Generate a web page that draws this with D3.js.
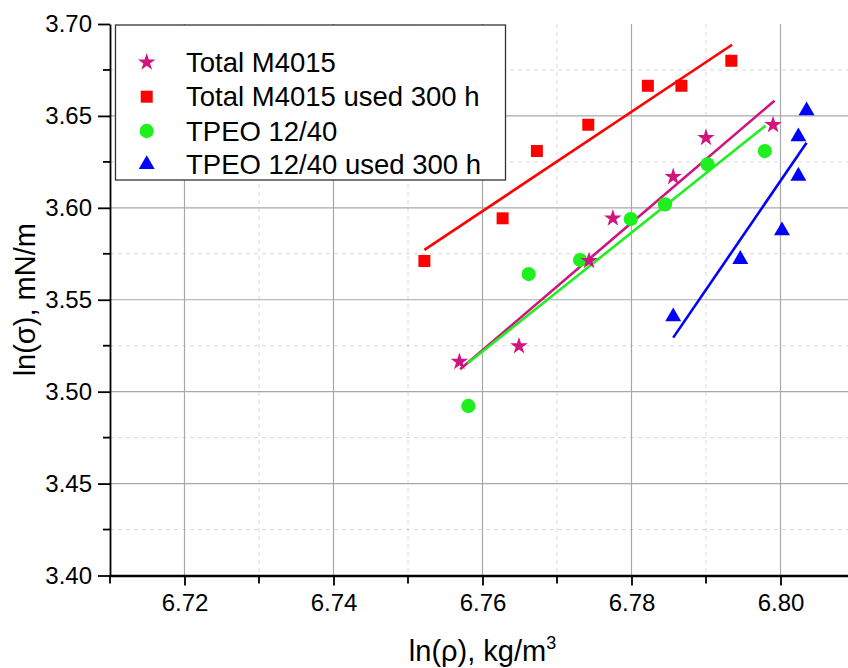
<!DOCTYPE html>
<html>
<head>
<meta charset="utf-8">
<script src="https://cdnjs.cloudflare.com/ajax/libs/d3/7.8.5/d3.min.js"></script>
<style>
  body { margin: 0; background: #fff; }
  svg { font-family: "Liberation Sans", Arial, sans-serif; display: block; }
  .axis path, .axis line { stroke: #000; }
  .axis text { font-size: 24px; fill: #000; }
</style>
</head>
<body>
<svg id="chart" width="848" height="668"></svg>
<script>

// Total M4015 (stars)
var starX = [6.7569, 6.7649, 6.7743, 6.7775, 6.7856, 6.7900, 6.7990];
var starY = [3.5163, 3.5248, 3.5712, 3.5943, 3.6169, 3.6381, 3.6451];
var starFit = [[6.7570, 3.5122], [6.7992, 3.6583]];

// Total M4015 used 300 h (squares)
var sqX = [6.7522, 6.7627, 6.7673, 6.7742, 6.7822, 6.7867, 6.7934];
var sqY = [3.5711, 3.5943, 3.6309, 3.6452, 3.6664, 3.6664, 3.6800];
var sqFit = [[6.7522, 3.5771], [6.7935, 3.6887]];

// TPEO 12/40 (circles)
var circX = [6.7581, 6.7662, 6.7731, 6.7799, 6.7845, 6.7902, 6.7979];
var circY = [3.4922, 3.5640, 3.5716, 3.5939, 3.6019, 3.6237, 3.6309];
var circFit = [[6.7580, 3.5154], [6.7980, 3.6447]];

// TPEO 12/40 used 300 h (triangles)
var triX = [6.7856, 6.7946, 6.8002, 6.8024, 6.8024, 6.8035];
var triY = [3.5408, 3.5720, 3.5876, 3.6173, 3.6387, 3.6528];
var triFit = [[6.7856, 3.5294], [6.8035, 3.6354]];

var seriesNames = ["Total M4015", "Total M4015 used 300 h", "TPEO 12/40", "TPEO 12/40 used 300 h"];

var xTicks = [6.72, 6.74, 6.76, 6.78, 6.80];
var xMinor = [6.71, 6.73, 6.75, 6.77, 6.79, 6.81];
var yTicks = [3.40, 3.45, 3.50, 3.55, 3.60, 3.65, 3.70];
var yMinor = [3.425, 3.475, 3.525, 3.575, 3.625, 3.675];

var svg = d3.select("#chart"),
    plotL = 110, plotR = 855, plotT = 24, plotB = 575.5;

//scales
var x = d3.scaleLinear().domain([6.71, 6.81]).range([plotL, plotR]);
var y = d3.scaleLinear().domain([3.40, 3.70]).range([plotB, plotT]);

//grid, minor dashed first, then major solid
var grid = svg.append("g");
grid.selectAll("line.vmin").data(xMinor.slice(1)).enter().append("line")
    .attr("x1", x).attr("x2", x).attr("y1", plotT).attr("y2", plotB)
    .attr("stroke", "#d8d8d8").attr("stroke-dasharray", "4,4");
grid.selectAll("line.hmin").data(yMinor).enter().append("line")
    .attr("x1", plotL).attr("x2", plotR).attr("y1", y).attr("y2", y)
    .attr("stroke", "#d8d8d8").attr("stroke-dasharray", "4,4");
grid.selectAll("line.vmaj").data(xTicks).enter().append("line")
    .attr("x1", x).attr("x2", x).attr("y1", plotT).attr("y2", plotB)
    .attr("stroke", "#a8a8a8").attr("stroke-width", 1.2);
grid.selectAll("line.hmaj").data(yTicks.slice(1, 6)).enter().append("line")
    .attr("x1", plotL).attr("x2", plotR).attr("y1", y).attr("y2", y)
    .attr("stroke", "#a8a8a8").attr("stroke-width", 1.2);

//fit lines
var line = d3.line()
    .x(function(d) { return x(d[0]); })
    .y(function(d) { return y(d[1]); });

var fits = [[sqFit, "#ff0000"], [starFit, "#d1127f"], [circFit, "#1ef01e"], [triFit, "#0000ff"]];
fits.forEach(function(f) {
  svg.append("path")
      .datum(f[0])
      .attr("d", line)
      .attr("fill", "none")
      .attr("stroke", f[1])
      .attr("stroke-width", 2.6);
});

//markers
var symStar = d3.symbol().type(d3.symbolStar).size(95),
    symSq = d3.symbol().type(d3.symbolSquare).size(144),
    symCirc = d3.symbol().type(d3.symbolCircle).size(160),
    symTri = d3.symbol().type(d3.symbolTriangle).size(110);

function drawPoints(xs, ys, sym, color) {
  svg.append("g").selectAll("path")
      .data(xs.map(function(v, i) { return [v, ys[i]]; }))
      .enter().append("path")
      .attr("d", sym)
      .attr("transform", function(d) { return "translate(" + x(d[0]) + "," + y(d[1]) + ")"; })
      .attr("fill", color);
}
drawPoints(sqX, sqY, symSq, "#ff0000");
drawPoints(circX, circY, symCirc, "#1ef01e");
drawPoints(starX, starY, symStar, "#d1127f");
drawPoints(triX, triY, symTri, "#0000ff");

//axes
var xAxis = d3.axisBottom(x).tickValues(xTicks).tickFormat(d3.format(".2f"))
    .tickSize(10).tickSizeOuter(0).tickPadding(8);
var yAxis = d3.axisLeft(y).tickValues(yTicks).tickFormat(d3.format(".2f"))
    .tickSize(12).tickSizeOuter(0).tickPadding(6);

var gy = svg.append("g").attr("class", "axis")
    .attr("transform", "translate(" + plotL + ",0)")
    .call(yAxis);
gy.selectAll("line").attr("stroke-width", 1.8);
gy.select(".domain").attr("stroke-width", 1.8);
gy.selectAll("line.minor").data(yMinor).enter().append("line")
    .attr("class", "minor")
    .attr("x1", -7).attr("x2", 0).attr("y1", y).attr("y2", y)
    .attr("stroke", "#000").attr("stroke-width", 1.8);

var gx = svg.append("g").attr("class", "axis")
    .attr("transform", "translate(0," + plotB + ")")
    .call(xAxis);
gx.selectAll("line").attr("stroke-width", 1.8);
gx.select(".domain").attr("stroke-width", 2.4);
gx.selectAll("line.minor").data(xMinor).enter().append("line")
    .attr("class", "minor")
    .attr("y1", 0).attr("y2", 8).attr("x1", x).attr("x2", x)
    .attr("stroke", "#000").attr("stroke-width", 1.8);

//axis titles
svg.append("text")
    .attr("transform", "translate(35," + (plotT + plotB) / 2 + ") rotate(-90)")
    .attr("text-anchor", "middle")
    .style("font-size", "29px")
    .text("ln(σ), mN/m");

var xt = svg.append("text")
    .attr("x", (plotL + plotR) / 2)
    .attr("y", 661)
    .attr("text-anchor", "middle")
    .style("font-size", "29px");
xt.append("tspan").text("ln(ρ), kg/m");
xt.append("tspan").attr("dy", -12).style("font-size", "18px").text("3");

//legend
var lg = svg.append("g");
lg.append("rect")
    .attr("x", 115.5).attr("y", 25).attr("width", 390).attr("height", 155)
    .attr("fill", "#fff").attr("stroke", "#333").attr("stroke-width", 1.3);

var legSyms = [[symStar, "#d1127f"], [symSq, "#ff0000"], [symCirc, "#1ef01e"], [symTri, "#0000ff"]];
var rowY = [62.3, 96.7, 131, 164.5];
seriesNames.forEach(function(name, i) {
  lg.append("path")
      .attr("d", legSyms[i][0])
      .attr("transform", "translate(146.7," + rowY[i] + ")")
      .attr("fill", legSyms[i][1]);
  lg.append("text")
      .attr("x", 186)
      .attr("y", rowY[i] + 9.6)
      .style("font-size", "27.5px")
      .text(name);
});

</script>
</body>
</html>
